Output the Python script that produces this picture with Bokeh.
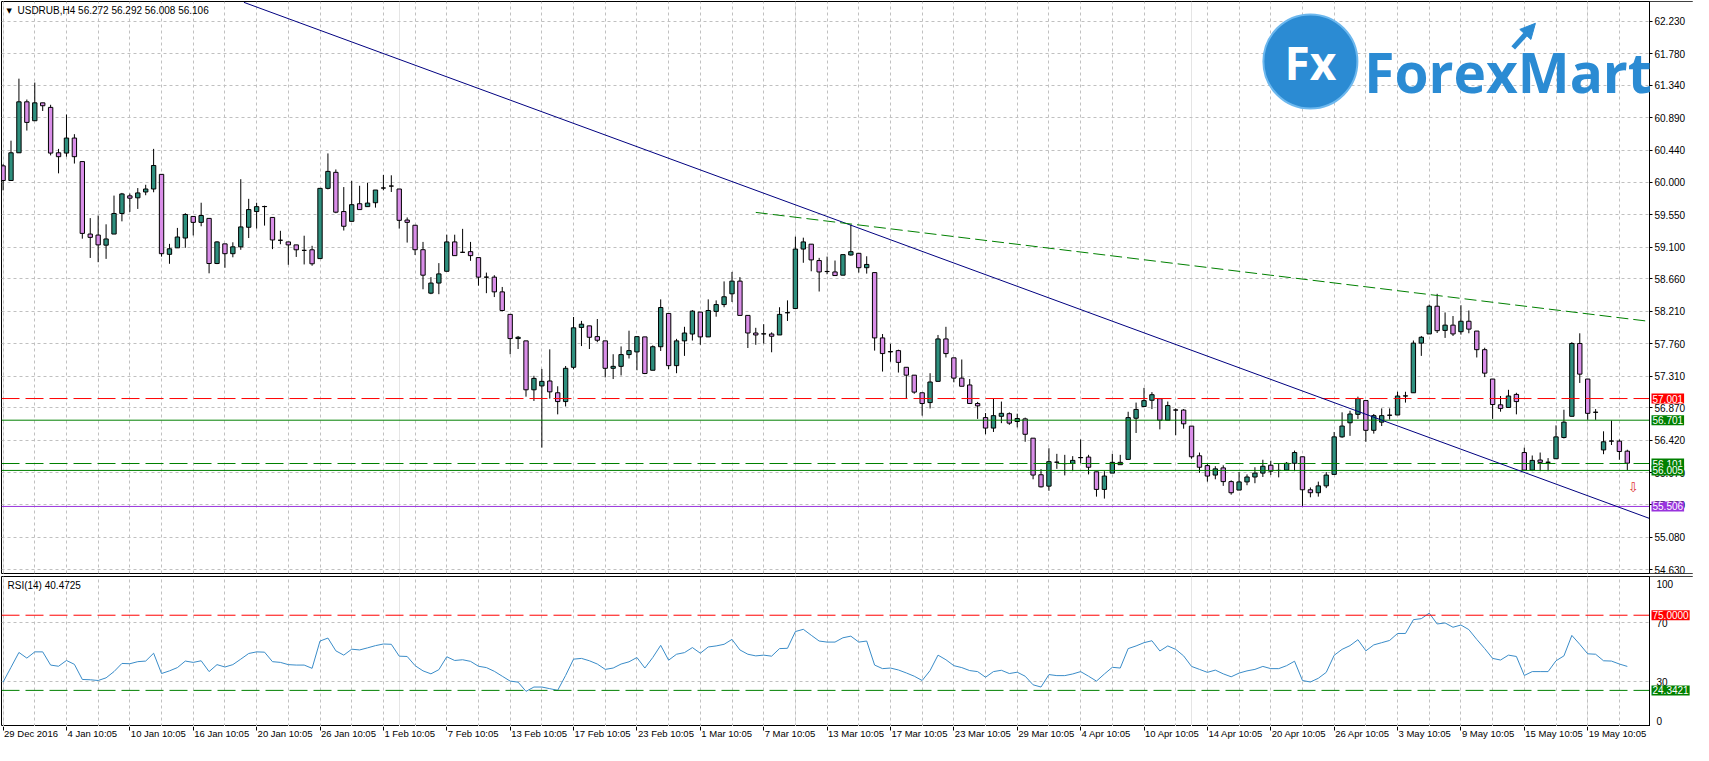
from bokeh.plotting import figure
from bokeh.models import (Range1d, FixedTicker, Grid, Label, ColumnDataSource, PrintfTickFormatter,
                          BoxAnnotation, LinearAxis, Arrow, NormalHead)
from bokeh.layouts import column
from bokeh.embed import file_html
from bokeh.resources import INLINE

# ---------------- data ----------------
opens = [60.225,60.022,60.406,61.112,60.850,61.098,61.035,60.406,60.402,60.610,
         60.284,59.280,59.266,59.126,59.280,59.565,59.809,59.782,59.863,59.904,
         60.107,58.999,59.089,59.225,59.524,59.442,59.497,58.872,59.144,59.008,
         59.103,59.374,59.592,59.662,59.510,59.194,59.171,59.130,59.054,59.062,
         58.940,59.913,60.135,59.592,59.456,59.700,59.660,59.714,59.918,59.945,
         59.904,59.474,59.402,59.063,58.461,58.601,58.764,59.171,59.027,59.036,
         58.954,58.683,58.683,58.479,58.167,57.832,57.800,57.122,57.176,57.244,
         57.081,56.959,57.434,57.986,58.008,57.859,57.800,57.420,57.447,57.610,
         57.647,57.855,57.393,57.719,58.180,57.457,57.800,57.895,58.199,57.855,
         58.208,58.303,58.452,58.628,58.153,57.909,57.898,57.895,57.882,58.191,
         58.248,59.072,59.140,58.913,58.762,58.755,58.710,58.990,59.013,58.814,
         58.746,57.841,57.652,57.665,57.434,57.325,57.081,56.945,57.239,57.827,
         57.565,57.284,57.189,56.932,56.737,56.592,56.755,56.791,56.683,56.719,
         56.452,55.945,55.787,56.120,56.101,56.103,56.184,56.190,55.986,55.742,
         55.968,56.117,56.158,56.728,56.891,56.977,56.999,56.701,56.843,56.841,
         56.619,56.208,56.072,55.941,56.040,55.850,55.733,55.846,55.914,55.968,
         56.077,56.006,56.009,56.104,56.194,55.737,55.696,55.791,55.950,56.470,
         56.665,56.782,56.973,56.561,56.674,56.771,56.773,57.038,57.081,57.769,
         57.896,58.280,57.945,58.018,57.927,58.072,57.936,57.678,57.271,56.914,
         56.877,57.058,56.253,56.009,56.149,56.119,56.167,56.461,56.755,57.764,
         57.271,56.812,56.289,56.413,56.411,56.272]
highs = [60.248,60.574,61.433,61.144,61.379,61.098,61.071,60.460,60.936,60.664,
         60.284,59.501,59.537,59.415,59.813,59.850,59.841,59.917,59.963,60.460,
         60.107,59.144,59.365,59.569,59.524,59.714,59.497,59.180,59.144,59.166,
         60.040,59.768,59.714,59.673,59.510,59.325,59.171,59.130,59.257,59.117,
         59.913,60.397,60.175,59.931,60.017,59.949,59.990,59.890,60.099,60.094,
         59.904,59.510,59.402,59.171,58.683,58.877,59.271,59.271,59.352,59.171,
         58.954,58.746,58.710,58.547,58.167,57.868,57.800,57.316,57.411,57.683,
         57.171,57.452,58.131,58.077,58.008,58.103,57.800,57.615,57.723,57.941,
         57.859,57.855,57.737,58.375,58.180,57.828,57.995,58.226,58.199,58.375,
         58.361,58.624,58.755,58.683,58.153,57.981,58.031,57.918,58.266,58.361,
         59.244,59.230,59.140,58.950,58.968,58.913,58.995,59.411,59.013,58.972,
         58.746,57.895,57.760,57.678,57.434,57.325,57.081,57.352,57.882,57.995,
         57.565,57.542,57.271,56.954,56.800,56.999,56.959,56.809,56.791,56.737,
         56.452,56.022,56.312,56.235,56.221,56.203,56.434,56.221,55.986,55.995,
         56.235,56.221,56.818,56.945,57.149,57.090,56.999,56.959,56.864,56.855,
         56.619,56.253,56.094,56.063,56.076,55.868,55.982,55.950,56.049,56.153,
         56.140,56.099,56.122,56.280,56.194,55.769,55.850,55.982,56.538,56.810,
         56.832,57.027,56.973,56.787,56.864,56.864,57.095,57.095,57.805,57.868,
         58.303,58.452,58.194,58.144,58.294,58.221,57.936,57.705,57.271,57.036,
         57.122,57.081,56.321,56.212,56.253,56.176,56.629,56.846,57.782,57.905,
         57.271,56.855,56.547,56.697,56.434,56.292]
lows = [59.886,60.020,60.406,60.714,60.850,60.985,60.370,60.121,60.352,60.257,
        59.216,58.949,58.890,58.936,59.280,59.456,59.587,59.628,59.818,59.859,
        58.967,58.868,59.089,59.089,59.261,59.388,58.736,58.863,58.813,58.958,
        59.062,59.225,59.356,59.397,59.071,59.139,58.854,58.963,58.859,58.841,
        58.936,59.899,59.569,59.329,59.456,59.619,59.660,59.646,59.886,59.863,
        59.356,59.162,58.990,58.515,58.447,58.447,58.764,58.981,59.018,58.909,
        58.565,58.461,58.407,58.208,57.615,57.687,57.027,56.968,56.321,57.000,
        56.782,56.891,57.407,57.728,57.687,57.782,57.294,57.271,57.321,57.556,
        57.393,57.339,57.393,57.660,57.407,57.352,57.592,57.805,57.746,57.855,
        58.135,58.266,58.339,58.153,57.701,57.746,57.764,57.642,57.882,58.076,
        58.248,58.882,58.764,58.484,58.723,58.705,58.710,58.981,58.746,58.732,
        57.665,57.375,57.511,57.361,57.000,57.067,56.764,56.864,57.239,57.570,
        57.226,57.171,56.932,56.719,56.506,56.538,56.660,56.637,56.601,56.402,
        55.882,55.769,55.723,56.027,55.936,55.995,56.103,55.950,55.642,55.615,
        55.968,56.085,56.158,56.524,56.891,56.855,56.574,56.701,56.493,56.583,
        56.167,55.972,55.850,55.882,55.791,55.669,55.733,55.800,55.828,55.914,
        55.941,55.909,56.009,55.995,55.497,55.633,55.642,55.760,55.950,56.457,
        56.484,56.719,56.402,56.515,56.620,56.710,56.773,56.945,57.081,57.592,
        57.896,57.909,57.841,57.868,57.886,57.905,57.570,57.298,56.719,56.819,
        56.877,56.782,56.009,55.995,55.995,55.995,56.167,56.448,56.755,57.217,
        56.706,56.706,56.230,56.357,56.153,56.008]
closes = [60.022,60.406,61.112,60.827,61.098,61.058,60.402,60.352,60.610,60.352,
          59.289,59.234,59.130,59.212,59.565,59.836,59.777,59.850,59.904,60.230,
          59.008,59.076,59.239,59.551,59.442,59.537,58.872,59.171,59.008,59.103,
          59.379,59.619,59.660,59.660,59.198,59.194,59.130,59.062,59.054,58.868,
          59.913,60.148,59.583,59.388,59.687,59.619,59.709,59.890,59.918,59.945,
          59.470,59.442,59.063,58.710,58.601,58.728,59.171,58.981,59.027,58.981,
          58.683,58.683,58.479,58.221,57.832,57.850,57.122,57.280,57.239,57.094,
          56.959,57.420,57.981,58.031,57.850,57.809,57.420,57.447,57.610,57.665,
          57.859,57.348,57.719,58.262,57.457,57.800,57.909,58.212,57.855,58.221,
          58.303,58.411,58.628,58.153,57.909,57.882,57.896,57.864,58.167,58.189,
          59.072,59.171,58.922,58.755,58.760,58.705,58.995,59.036,58.814,58.859,
          57.841,57.624,57.647,57.502,57.325,57.090,56.932,57.230,57.827,57.624,
          57.284,57.171,56.932,56.900,56.592,56.764,56.796,56.660,56.724,56.506,
          55.941,55.778,56.126,56.118,56.099,56.144,56.181,56.049,55.742,55.927,
          56.117,56.085,56.737,56.850,56.972,57.054,56.701,56.904,56.841,56.651,
          56.194,56.049,55.927,56.027,55.850,55.696,55.846,55.914,55.968,56.063,
          55.995,56.004,56.104,56.253,55.737,55.696,55.791,55.941,56.470,56.620,
          56.787,57.000,56.561,56.764,56.764,56.769,57.036,57.036,57.769,57.850,
          58.280,57.941,58.018,57.896,58.072,57.963,57.678,57.353,56.918,56.864,
          57.036,56.959,56.009,56.144,56.117,56.117,56.470,56.674,57.764,57.339,
          56.796,56.810,56.402,56.411,56.267,56.106]
rsi = [29.9,39.9,49.9,46.1,50.3,50.3,41.4,40.6,44.5,41.9,
       31.7,31.5,31.0,32.8,37.0,42.5,42.3,43.7,44.1,49.4,
       35.7,37.5,39.7,44.1,43.2,44.3,37.0,41.7,40.1,41.7,
       45.4,49.2,50.3,50.1,43.7,43.2,41.7,41.4,41.4,39.2,
       57.6,59.6,51.0,48.1,52.1,51.6,53.0,54.5,55.6,55.4,
       47.4,47.2,41.0,37.5,35.5,38.3,47.0,44.5,45.0,43.9,
       40.6,39.7,37.2,33.9,30.6,29.9,23.7,26.6,26.6,25.5,
       24.4,34.4,45.4,45.9,44.3,42.1,38.5,39.4,42.1,43.6,
       46.5,39.4,46.5,54.7,44.7,48.7,49.8,53.2,49.4,53.6,
       54.3,55.4,58.7,51.6,48.7,47.6,48.1,47.4,52.5,52.7,
       64.0,65.5,61.5,57.6,56.9,56.9,59.8,60.9,56.9,57.6,
       41.4,39.0,39.4,38.1,36.1,33.9,31.0,37.7,48.1,45.0,
       41.0,39.7,37.7,37.0,33.2,37.0,37.9,35.7,36.6,33.9,
       28.1,26.6,35.0,34.3,34.3,35.4,37.0,33.9,30.6,35.4,
       39.9,39.4,52.5,54.3,56.5,57.8,50.9,54.3,52.0,47.6,
       40.5,38.5,36.5,38.0,35.5,33.5,36.0,37.5,38.5,40.5,
       39.0,39.0,41.0,44.0,31.0,30.0,32.5,36.5,48.0,52.0,
       54.5,58.5,51.0,55.0,56.5,58.0,62.7,62.7,72.0,72.7,
       76.4,69.1,69.8,66.9,68.4,65.3,58.7,52.5,45.9,44.8,
       48.1,47.2,34.4,37.0,37.0,37.0,44.3,47.6,61.4,55.4,
       49.0,48.7,44.3,44.1,42.1,40.5]
time_labels = ["29 Dec 2016", "4 Jan 10:05", "10 Jan 10:05", "16 Jan 10:05", "20 Jan 10:05",
               "26 Jan 10:05", "1 Feb 10:05", "7 Feb 10:05", "13 Feb 10:05", "17 Feb 10:05",
               "23 Feb 10:05", "1 Mar 10:05", "7 Mar 10:05", "13 Mar 10:05", "17 Mar 10:05",
               "23 Mar 10:05", "29 Mar 10:05", "4 Apr 10:05", "10 Apr 10:05", "14 Apr 10:05",
               "20 Apr 10:05", "26 Apr 10:05", "3 May 10:05", "9 May 10:05", "15 May 10:05",
               "19 May 10:05"]
price_ticks = [62.230, 61.780, 61.340, 60.890, 60.440, 60.000, 59.550, 59.100, 58.660,
               58.210, 57.760, 57.310, 56.870, 56.420, 55.970, 55.530, 55.080, 54.630]
level_values = [57.001, 56.701, 56.101, 56.005, 55.506]
level_labels = ["57.001", "56.701", "56.101", "56.005", "55.506"]
rsi_levels = [75.0, 24.3421]
rsi_level_labels = ["75.0000", "24.3421"]
trend_x = [30.4, 207.8]          # navy descending trendline (bar index)
trend_y = [62.49, 55.34]
resist_x = [95.0, 207.8]         # green dashed resistance
resist_y = [59.58, 58.07]
header = "USDRUB,H4  56.272 56.292 56.008 56.106"
rsi_title = "RSI(14) 40.4725"

# ---------------- styles / layout ----------------
BULL = "#2e8f7e"
BEAR = "#d98ee8"
GRID = "#c0c0c0"
LOGO = "#2b8bd3"
FONT = "Liberation Sans"
FS = "10px"
TFS = 9.5                     # time-label font size (px)
N = len(opens)
W = 1693
FRAME_PX = W - 1              # frame spans the whole width (price scale drawn inside)
CHART_PX = 1648               # width of the candle area left of the price scale
X_START, CHART_END = -0.2, 207.8
PX_PER_BAR = CHART_PX / (CHART_END - X_START)
X_MAX = X_START + FRAME_PX / PX_PER_BAR

xs = list(range(N))
tops = [max(o, c) for o, c in zip(opens, closes)]
bots = [min(o, c) for o, c in zip(opens, closes)]
cols = [BULL if c >= o else BEAR for o, c in zip(opens, closes)]
src = ColumnDataSource(dict(x=xs, top=tops, bottom=bots, high=highs, low=lows, color=cols))

x_range = Range1d(X_START, X_MAX)
Y0, Y1 = 54.577, 62.502


def style_price_axis(a):
    a.major_label_text_font = FONT
    a.major_label_text_font_size = FS
    a.major_label_text_color = "black"
    a.axis_line_color = "black"
    a.major_tick_line_color = "black"
    a.major_tick_out = 3
    a.major_tick_in = 0
    a.minor_tick_line_color = None
    a.major_label_standoff = 2


def box_label(fig, y, text, color):
    fig.add_layout(Label(x=CHART_END, y=y, x_offset=2, text=text, text_align="left",
                         text_baseline="middle", text_color="white", text_font=FONT,
                         text_font_size=FS, background_fill_color=color, padding=1))


main = figure(width=W, height=575, x_range=x_range, y_range=Range1d(Y0, Y1),
              output_backend="svg", toolbar_location=None, x_axis_location=None,
              y_axis_location="right", min_border_top=1, min_border_bottom=2,
              min_border_left=1, min_border_right=0)
main.outline_line_color = "black"
main.background_fill_color = "white"
main.border_fill_color = "white"

ax = main.yaxis[0]
ax.fixed_location = CHART_END
ax.ticker = FixedTicker(ticks=price_ticks)
ax.formatter = PrintfTickFormatter(format="%.3f")
style_price_axis(ax)

main.ygrid.grid_line_color = GRID
main.ygrid.grid_line_dash = "3 3"
main.add_layout(Grid(dimension=0, ticker=FixedTicker(ticks=list(range(0, 208, 4))),
                     grid_line_color=GRID, grid_line_dash="3 3"))
# keep the price-scale strip clean of grid lines
main.add_layout(BoxAnnotation(left=CHART_END, fill_color="white", fill_alpha=1.0,
                              line_color=None, level="underlay"))

main.segment(x0="x", y0="low", x1="x", y1="high", source=src, line_color="black", line_width=1)
main.vbar(x="x", width=0.55, top="top", bottom="bottom", source=src,
          fill_color="color", line_color="black", line_width=1)

# level lines (drawn over the candles, up to the price scale)
level_colors = ["#ff0000", "#008000", "#008000", "#008000", "#9933dd"]
level_dash = ["18 6", "solid", "18 6", "solid", "solid"]
for v, c, d in zip(level_values, level_colors, level_dash):
    main.line([X_START, CHART_END], [v, v], line_color=c, line_dash=d, line_width=1)

main.line(trend_x, trend_y, line_color="#000080", line_width=1)
main.line(resist_x, resist_y, line_color="#008000", line_width=1, line_dash="12 5")

for v, t, c in zip(level_values, level_labels, level_colors):
    box_label(main, v, t, c)

# header
main.add_layout(Label(x=X_START, y=Y1, x_offset=5, y_offset=-9, text="▼",
                      text_baseline="middle", text_font="DejaVu Sans", text_font_size="7px",
                      text_color="black"))
main.add_layout(Label(x=X_START, y=Y1, x_offset=16, y_offset=-9, text=header,
                      text_baseline="middle", text_font=FONT, text_font_size=FS,
                      text_color="black"))
# down arrow marker
main.add_layout(Label(x=205.75, y=55.77, text="⇩", text_align="center", text_baseline="middle",
                      text_font="DejaVu Sans", text_font_size="13px", text_color="#e03030"))

# logo (decoration, top right)
main.scatter(x=[165.0], y=[61.67], size=94, marker="circle", fill_color=LOGO,
             line_color="#6db8ee", line_width=2)
main.add_layout(Label(x=165.0, y=61.67, text="Fx", text_align="center", text_baseline="middle",
                      text_font="Open Sans", text_font_style="bold", text_font_size="46px",
                      text_color="white"))
main.add_layout(Label(x=171.8, y=61.53, text="ForexMart", text_align="left",
                      text_baseline="alphabetic", text_font="Open Sans", text_font_style="bold",
                      text_font_size="55px", text_color=LOGO))
main.add_layout(Arrow(x_start=190.6, y_start=61.86, x_end=193.4, y_end=62.20,
                      line_color=LOGO, line_width=5,
                      end=NormalHead(size=15, fill_color=LOGO, line_color=LOGO)))

# ---------------- RSI panel ----------------
rp = figure(width=W, height=151, x_range=x_range, y_range=Range1d(0, 101.1),
            output_backend="svg", toolbar_location=None, y_axis_location="right",
            x_axis_location=None,
            min_border_top=1, min_border_bottom=0, min_border_left=1, min_border_right=0)
rp.outline_line_color = "black"
rp.background_fill_color = "white"
rp.border_fill_color = "white"

ry = rp.yaxis[0]
ry.fixed_location = CHART_END
ry.ticker = FixedTicker(ticks=[96.3, 70, 30, 4.0])
ry.major_label_overrides = {96.3: "100", 70: "70", 30: "30", 4.0: "0"}
style_price_axis(ry)
ry.major_tick_line_color = None
ry.major_label_standoff = 4
rp.ygrid.ticker = FixedTicker(ticks=[70, 30])
rp.ygrid.grid_line_color = GRID
rp.ygrid.grid_line_dash = "3 3"
rp.add_layout(Grid(dimension=0, ticker=FixedTicker(ticks=list(range(0, 208, 4))),
                   grid_line_color=GRID, grid_line_dash="3 3"))
rp.add_layout(BoxAnnotation(left=CHART_END, fill_color="white", fill_alpha=1.0,
                            line_color=None, level="underlay"))

rp.line(xs, rsi, line_color="#3a8cc8", line_width=1)
for v, c in zip(rsi_levels, ["#ff0000", "#008000"]):
    rp.line([X_START, CHART_END], [v, v], line_color=c, line_dash="18 6", line_width=1)
for v, t, c in zip(rsi_levels, rsi_level_labels, ["#ff0000", "#008000"]):
    box_label(rp, v, t, c)
rp.add_layout(Label(x=X_START, y=101.1, x_offset=6, y_offset=-9, text=rsi_title,
                    text_baseline="middle", text_font=FONT, text_font_size=FS,
                    text_color="black"))

# ---------------- time scale strip ----------------
tp = figure(width=W, height=19, x_range=x_range, y_range=Range1d(0, 1),
            output_backend="svg", toolbar_location=None, x_axis_location=None,
            y_axis_location=None, min_border_top=0, min_border_bottom=0,
            min_border_left=1, min_border_right=0)
tp.outline_line_color = None
tp.background_fill_color = "white"
tp.border_fill_color = "white"
tp.grid.visible = False

label_bars = list(range(0, 8 * len(time_labels), 8))
tick_axis = LinearAxis(fixed_location=1, ticker=FixedTicker(ticks=label_bars),
                       major_label_overrides={b: "" for b in label_bars},
                       major_label_text_font_size="1px",
                       axis_line_color=None, major_tick_line_color="black",
                       major_tick_out=4, major_tick_in=0, minor_tick_line_color=None)
tp.add_layout(tick_axis, "below")

# time labels start at their bar (MT4 style): shift each by half its width
CW = {"0": .556, "1": .556, "2": .556, "3": .556, "4": .556, "5": .556, "6": .556, "7": .556,
      "8": .556, "9": .556, " ": .278, ":": .278, "D": .722, "e": .556, "c": .5, "J": .5,
      "a": .556, "n": .556, "F": .611, "b": .556, "M": .833, "r": .333, "A": .667, "p": .556,
      "y": .5}
label_pos = [b + (sum(CW.get(ch, .556) for ch in t) * TFS + 2) / 2 / PX_PER_BAR
             for b, t in zip(label_bars, time_labels)]
tx = LinearAxis(fixed_location=1, ticker=FixedTicker(ticks=label_pos),
                major_label_overrides={p: t for p, t in zip(label_pos, time_labels)},
                axis_line_color=None, major_tick_line_color=None, minor_tick_line_color=None,
                major_tick_out=0, major_tick_in=0,
                major_label_text_font=FONT, major_label_text_font_size=f"{TFS}px",
                major_label_text_color="black", major_label_standoff=1)
tp.add_layout(tx, "below")

layout = column(main, rp, tp, spacing=0)
open("out.html", "w").write(file_html(layout, INLINE))
